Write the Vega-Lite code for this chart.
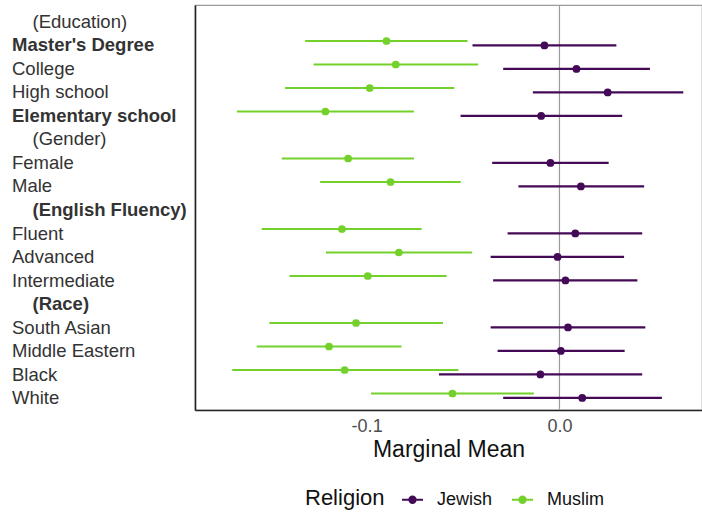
{
  "$schema": "https://vega.github.io/schema/vega-lite/v6.json",
  "width": 507,
  "height": 405,
  "autosize": {"type": "none"},
  "padding": {"left": 195, "top": 5, "right": 0, "bottom": 102},
  "background": "white",
  "config": {
    "font": "Liberation Sans",
    "view": {"stroke": "#9a9a9a", "strokeWidth": 1.2}
  },
  "datasets": {
    "mm": [
      {"cat": "Master's Degree", "religion": "Muslim", "mean": -0.0897, "lo": -0.1319, "hi": -0.0477},
      {"cat": "College", "religion": "Muslim", "mean": -0.0849, "lo": -0.1275, "hi": -0.0422},
      {"cat": "High school", "religion": "Muslim", "mean": -0.0984, "lo": -0.1423, "hi": -0.0545},
      {"cat": "Elementary school", "religion": "Muslim", "mean": -0.1214, "lo": -0.1673, "hi": -0.0755},
      {"cat": "Female", "religion": "Muslim", "mean": -0.1096, "lo": -0.1440, "hi": -0.0755},
      {"cat": "Male", "religion": "Muslim", "mean": -0.0876, "lo": -0.1241, "hi": -0.0512},
      {"cat": "Fluent", "religion": "Muslim", "mean": -0.1128, "lo": -0.1544, "hi": -0.0715},
      {"cat": "Advanced", "religion": "Muslim", "mean": -0.0833, "lo": -0.1211, "hi": -0.0453},
      {"cat": "Intermediate", "religion": "Muslim", "mean": -0.0994, "lo": -0.1400, "hi": -0.0585},
      {"cat": "South Asian", "religion": "Muslim", "mean": -0.1055, "lo": -0.1504, "hi": -0.0604},
      {"cat": "Middle Eastern", "religion": "Muslim", "mean": -0.1195, "lo": -0.1570, "hi": -0.0819},
      {"cat": "Black", "religion": "Muslim", "mean": -0.1114, "lo": -0.1697, "hi": -0.0524},
      {"cat": "White", "religion": "Muslim", "mean": -0.0555, "lo": -0.0977, "hi": -0.0133},
      {"cat": "Master's Degree", "religion": "Jewish", "mean": -0.0078, "lo": -0.0451, "hi": 0.0295},
      {"cat": "College", "religion": "Jewish", "mean": 0.0088, "lo": -0.0292, "hi": 0.0469},
      {"cat": "High school", "religion": "Jewish", "mean": 0.0250, "lo": -0.0138, "hi": 0.0642},
      {"cat": "Elementary school", "religion": "Jewish", "mean": -0.0095, "lo": -0.0513, "hi": 0.0325},
      {"cat": "Female", "religion": "Jewish", "mean": -0.0047, "lo": -0.0349, "hi": 0.0255},
      {"cat": "Male", "religion": "Jewish", "mean": 0.0111, "lo": -0.0213, "hi": 0.0439},
      {"cat": "Fluent", "religion": "Jewish", "mean": 0.0082, "lo": -0.0269, "hi": 0.0429},
      {"cat": "Advanced", "religion": "Jewish", "mean": -0.0010, "lo": -0.0357, "hi": 0.0335},
      {"cat": "Intermediate", "religion": "Jewish", "mean": 0.0031, "lo": -0.0344, "hi": 0.0404},
      {"cat": "South Asian", "religion": "Jewish", "mean": 0.0044, "lo": -0.0357, "hi": 0.0445},
      {"cat": "Middle Eastern", "religion": "Jewish", "mean": 0.0007, "lo": -0.0321, "hi": 0.0338},
      {"cat": "Black", "religion": "Jewish", "mean": -0.0099, "lo": -0.0625, "hi": 0.0429},
      {"cat": "White", "religion": "Jewish", "mean": 0.0118, "lo": -0.0292, "hi": 0.0531}
    ],
    "zero": [{"z": 0}]
  },
  "layer": [
    {
      "data": {"name": "zero"},
      "mark": {"type": "rule", "color": "#9a9a9a", "strokeWidth": 1.2},
      "encoding": {
        "x": {"field": "z", "type": "quantitative"}
      }
    },
    {
      "data": {"name": "mm"},
      "mark": {"type": "rule", "strokeWidth": 2.2},
      "encoding": {
        "y": {"field": "cat", "type": "nominal"},
        "yOffset": {"field": "religion", "type": "nominal", "scale": {"type": "point", "domain": ["Muslim", "Jewish"], "range": [-4.2, 4.6]}},
        "x": {"field": "lo", "type": "quantitative"},
        "x2": {"field": "hi"},
        "color": {"field": "religion", "type": "nominal"}
      }
    },
    {
      "data": {"name": "mm"},
      "mark": {"type": "point", "filled": true, "opacity": 1, "size": 60},
      "encoding": {
        "y": {"field": "cat", "type": "nominal"},
        "yOffset": {"field": "religion", "type": "nominal", "scale": {"type": "point", "domain": ["Muslim", "Jewish"], "range": [-4.2, 4.6]}},
        "x": {"field": "mean", "type": "quantitative"},
        "color": {"field": "religion", "type": "nominal"}
      }
    }
  ],
  "encoding": {
    "x": {
      "type": "quantitative",
      "scale": {"domain": [-0.189, 0.0739], "nice": false, "zero": false},
      "axis": {
        "values": [-0.1, 0],
        "format": ".1f",
        "labelExpr": "replace(datum.label, '\u2212', '-')",
        "grid": false,
        "ticks": false,
        "tickSize": 0,
        "domainColor": "#222222",
        "domainWidth": 1.6,
        "labelFontSize": 18,
        "labelColor": "#4d4d4d",
        "labelPadding": 7,
        "title": "Marginal Mean",
        "titleFontSize": 23,
        "titleFontWeight": "normal",
        "titleColor": "#111111",
        "titlePadding": 3
      }
    },
    "y": {
      "type": "nominal",
      "scale": {
        "type": "point",
        "padding": 0.617,
        "domain": ["(Education)", "Master's Degree", "College", "High school", "Elementary school", "(Gender)", "Female", "Male", "(English Fluency)", "Fluent", "Advanced", "Intermediate", "(Race)", "South Asian", "Middle Eastern", "Black", "White"]
      },
      "axis": {
        "title": null,
        "grid": false,
        "ticks": false,
        "tickSize": 0,
        "domainColor": "#222222",
        "domainWidth": 1.6,
        "labelAlign": "left",
        "labelLimit": 400,
        "labelFontSize": 18.5,
        "labelColor": "#333333",
        "labelOffset": 2,
        "labelPadding": {"condition": {"test": "indexof(datum.value, '(') == 0", "value": 163}, "value": 183.5},
        "labelFontWeight": {"condition": {"test": "datum.value == \"Master's Degree\" || datum.value == 'Elementary school' || datum.value == '(English Fluency)' || datum.value == '(Race)'", "value": "bold"}, "value": "normal"}
      }
    },
    "color": {
      "type": "nominal",
      "scale": {"domain": ["Jewish", "Muslim"], "range": ["#440a57", "#74d12b"]},
      "legend": {
        "orient": "none",
        "legendX": 110,
        "legendY": 483,
        "direction": "horizontal",
        "title": "Religion",
        "titleOrient": "left",
        "titleFontSize": 22,
        "titleFontWeight": "normal",
        "titleColor": "#111111",
        "titlePadding": 16,
        "labelFontSize": 18,
        "labelColor": "#111111",
        "labelOffset": 13,
        "columnPadding": 15,
        "symbolType": "M-1,0H1M-0.3,0A0.3,0.3,0,1,0,0.3,0A0.3,0.3,0,1,0,-0.3,0Z",
        "symbolSize": 441,
        "symbolStrokeWidth": 2,
        "encode": {
          "symbols": {
            "update": {
              "stroke": {"scale": "color", "field": "value"},
              "fill": {"scale": "color", "field": "value"},
              "strokeWidth": {"value": 2},
              "opacity": {"value": 1}
            }
          }
        }
      }
    }
  }
}
